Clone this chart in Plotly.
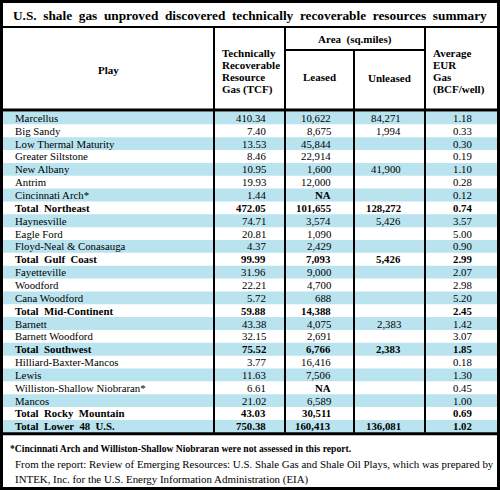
import plotly.graph_objects as go

# ---------------- data ----------------
title_words = ["U.S.", "shale", "gas", "unproved", "discovered", "technically",
               "recoverable", "resources", "summary"]
plays = ["Marcellus", "Big Sandy", "Low Thermal Maturity", "Greater Siltstone", "New Albany",
         "Antrim", "Cincinnati Arch*", "Total Northeast", "Haynesville", "Eagle Ford",
         "Floyd-Neal & Conasauga", "Total Gulf Coast", "Fayetteville", "Woodford",
         "Cana Woodford", "Total Mid-Continent", "Barnett", "Barnett Woodford",
         "Total Southwest", "Hilliard-Baxter-Mancos", "Lewis", "Williston-Shallow Niobraran*",
         "Mancos", "Total Rocky Mountain", "Total Lower 48 U.S."]
trr = ["410.34", "7.40", "13.53", "8.46", "10.95", "19.93", "1.44", "472.05", "74.71", "20.81",
       "4.37", "99.99", "31.96", "22.21", "5.72", "59.88", "43.38", "32.15", "75.52", "3.77",
       "11.63", "6.61", "21.02", "43.03", "750.38"]
leased = ["10,622", "8,675", "45,844", "22,914", "1,600", "12,000", "NA", "101,655", "3,574",
          "1,090", "2,429", "7,093", "9,000", "4,700", "688", "14,388", "4,075", "2,691", "6,766",
          "16,416", "7,506", "NA", "6,589", "30,511", "160,413"]
unleased = ["84,271", "1,994", "", "", "41,900", "", "", "128,272", "5,426", "", "", "5,426",
            "", "", "", "", "2,383", "", "2,383", "", "", "", "", "", "136,081"]
eur = ["1.18", "0.33", "0.30", "0.19", "1.10", "0.28", "0.12", "0.74", "3.57", "5.00", "0.90",
       "2.99", "2.07", "2.98", "5.20", "2.45", "1.42", "3.07", "1.85", "0.18", "1.30", "0.45",
       "1.00", "0.69", "1.02"]
total_rows = [7, 11, 15, 18, 23, 24]
footnote = "*Cincinnati Arch and Williston-Shallow Niobraran were not assessed in this report."
source1 = "From the report: Review of Emerging Resources: U.S. Shale Gas and Shale Oil Plays, which was prepared by"
source2 = "INTEK, Inc. for the U.S. Energy Information Administration (EIA)"

# ---------------- layout constants ----------------
W, H = 500, 490
FONT = "Liberation Serif, Times New Roman, serif"
STRIPE = "#b9e4ef"
col_edges = [3, 214, 285, 354, 425, 497]
title_bottom = 27
area_line = 50
header_bottom = 110
row_top = 111.5
row_h = 12.85
n = len(plays)
body_bottom = row_top + n * row_h
BODY = 10.8
SP = "&nbsp;&nbsp;"

fig = go.Figure()
fig.add_trace(go.Scatter(x=[0, W], y=[0, H], mode="markers", marker=dict(opacity=0),
                         hoverinfo="skip", showlegend=False))

shapes = []
ann = []

# stripes
for i in range(n):
    if i % 2 == 0:
        y0 = row_top + i * row_h
        shapes.append(dict(type="rect", x0=col_edges[0], x1=col_edges[-1], y0=y0, y1=y0 + row_h,
                           fillcolor=STRIPE, line=dict(width=0), layer="below"))

def hline(x0, x1, y, w=2):
    shapes.append(dict(type="line", x0=x0, x1=x1, y0=y, y1=y, line=dict(color="black", width=w)))

def vline(x, y0, y1, w=2):
    shapes.append(dict(type="line", x0=x, x1=x, y0=y0, y1=y1, line=dict(color="black", width=w)))

hline(col_edges[0], col_edges[-1], title_bottom, 2)
hline(col_edges[2], col_edges[4], area_line, 2)
hline(col_edges[0], col_edges[-1], header_bottom, 3)
hline(col_edges[0], col_edges[-1], body_bottom + 1, 3)
vline(col_edges[1], title_bottom, body_bottom, 2)
vline(col_edges[2], title_bottom, body_bottom, 2)
vline(col_edges[3], area_line, body_bottom, 2)
vline(col_edges[4], title_bottom, body_bottom, 2)
shapes.append(dict(type="rect", x0=1.5, x1=W - 1.5, y0=1.5, y1=H - 1.5,
                   line=dict(color="black", width=3)))

def text(x, y, s, size=BODY, anchor="left", bold=False):
    ann.append(dict(x=x, y=y, xref="x", yref="y", text=("<b>%s</b>" % s) if bold else s,
                    showarrow=False, xanchor=anchor, yanchor="middle",
                    font=dict(family=FONT, size=size, color="black")))

# title
text(W / 2, 15, SP.join(title_words), size=13.3, anchor="center", bold=True)

# header
text((col_edges[0] + col_edges[1]) / 2, 70, "Play", size=11, anchor="center", bold=True)
for k, line in enumerate(["Technically", "Recoverable", "Resource", "Gas (TCF)"]):
    text(220, 53 + k * 12, line, size=11, bold=True)
text((col_edges[2] + col_edges[4]) / 2, 39, "Area&nbsp;&nbsp;(sq.miles)", size=11, anchor="center", bold=True)
text((col_edges[2] + col_edges[3]) / 2, 77, "Leased", size=11, anchor="center", bold=True)
text((col_edges[3] + col_edges[4]) / 2, 78, "Unleased", size=11, anchor="center", bold=True)
for k, line in enumerate(["Average", "EUR", "Gas", "(BCF/well)"]):
    text(431, 53 + k * 12, line, size=11, bold=True)

# body
for i in range(n):
    yc = row_top + i * row_h + row_h / 2
    b = i in total_rows
    label = plays[i].replace(" ", "&nbsp; ") if b else plays[i]
    text(13, yc, label, bold=b)
    text(268, yc, trr[i], anchor="right", bold=b)
    if leased[i]:
        text(333, yc, leased[i], anchor="right", bold=b or leased[i] == "NA")
    if unleased[i]:
        text(403, yc, unleased[i], anchor="right", bold=b)
    text(474, yc, eur[i], anchor="right", bold=b)

# footer
text(8, 448, footnote, size=9.6, bold=True)
text(13, 464, source1, size=10.9)
text(13, 479, source2, size=10.9)

fig.update_layout(
    width=W, height=H, margin=dict(l=0, r=0, t=0, b=0),
    paper_bgcolor="white", plot_bgcolor="white",
    xaxis=dict(range=[0, W], visible=False, fixedrange=True),
    yaxis=dict(range=[H, 0], visible=False, fixedrange=True),
    shapes=shapes, annotations=ann, showlegend=False,
)
fig.write_html("out.html", config={"displayModeBar": False},
               post_script="document.body.style.margin='0';")
